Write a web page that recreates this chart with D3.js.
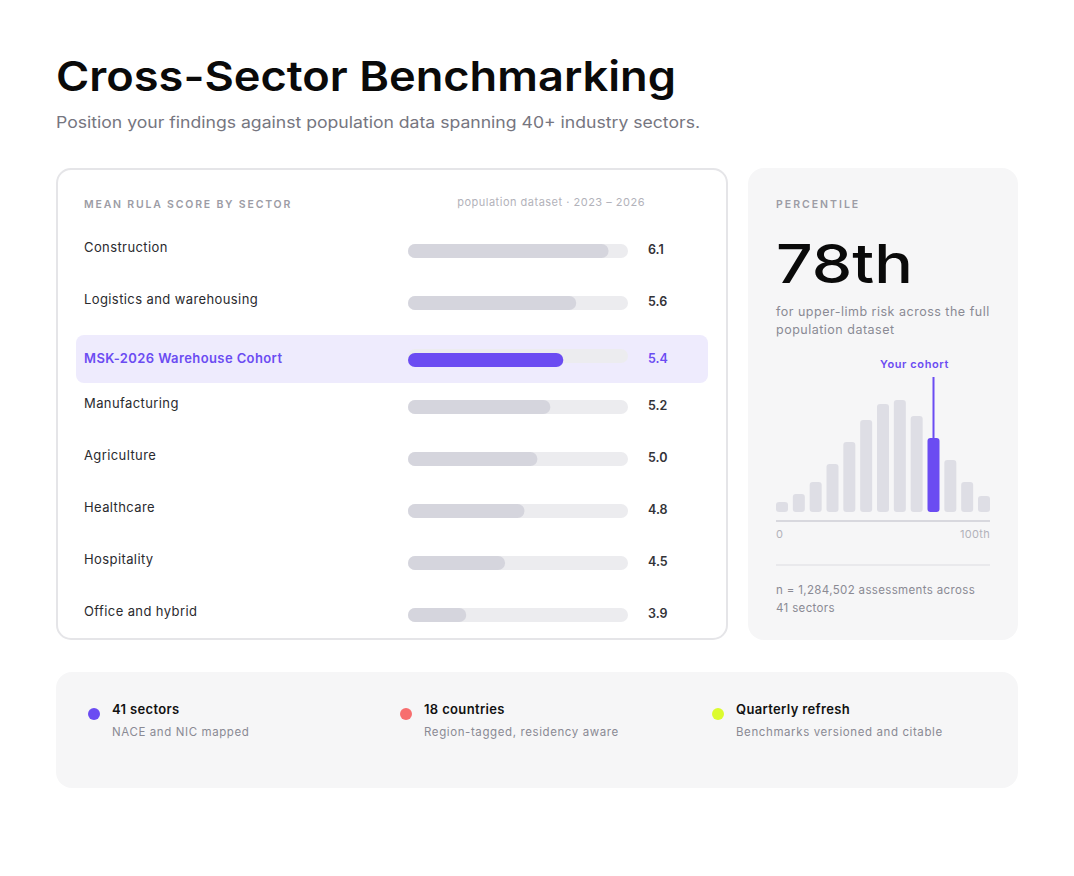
<!DOCTYPE html>
<html>
<head>
<meta charset="utf-8">
<script src="https://cdn.jsdelivr.net/npm/d3@7"></script>
<style>
  body { margin: 0; background: #fff; }
  svg { display: block; font-family: Inter, "Noto Sans", sans-serif; }
</style>
</head>
<body>
<script>
// sector benchmark data
const sectors = ["Construction", "Logistics and warehousing", "MSK-2026 Warehouse Cohort",
  "Manufacturing", "Agriculture", "Healthcare", "Hospitality", "Office and hybrid"]
const scores = [6.1, 5.6, 5.4, 5.2, 5.0, 4.8, 4.5, 3.9]
const cohortName = "MSK-2026 Warehouse Cohort"
const scoreDomain = [3, 6.4]

// percentile distribution (relative density per bin)
const histDensity = [10, 18, 30, 48, 70, 92, 108, 112, 96, 74, 52, 30, 16]
const cohortBin = 9
const percentileLabel = "78th"

const statTitles = ["41 sectors", "18 countries", "Quarterly refresh"]
const statNotes = ["NACE and NIC mapped", "Region-tagged, residency aware", "Benchmarks versioned and citable"]

const purple = "#6b4cf2"
const statColors = [purple, "#f76e6e", "#dcfb2e"]

const width = 1074, height = 876
const svg = d3.select("body").append("svg")
  .attr("width", width)
  .attr("height", height)

// heading
svg.append("text")
  .attr("x", 56).attr("y", 91)
  .attr("font-size", 41).attr("font-weight", 600)
  .attr("fill", "#0a0a0a")
  .attr("textLength", 620).attr("lengthAdjust", "spacingAndGlyphs")
  .text("Cross-Sector Benchmarking")

svg.append("text")
  .attr("x", 56).attr("y", 128)
  .attr("font-size", 16).attr("fill", "#76767f")
  .attr("textLength", 644).attr("lengthAdjust", "spacingAndGlyphs")
  .text("Position your findings against population data spanning 40+ industry sectors.")

// left card
svg.append("rect")
  .attr("x", 57).attr("y", 169).attr("width", 670).attr("height", 470)
  .attr("rx", 14).attr("fill", "#fff")
  .attr("stroke", "#e5e5e8").attr("stroke-width", 2)

svg.append("text")
  .attr("x", 84).attr("y", 208)
  .attr("font-size", 10.5).attr("font-weight", 600).attr("fill", "#9c9ca5")
  .attr("letter-spacing", 1.8)
  .text("MEAN RULA SCORE BY SECTOR")

svg.append("text")
  .attr("x", 645).attr("y", 206).attr("text-anchor", "end")
  .attr("font-size", 11).attr("fill", "#b2b2ba")
  .attr("letter-spacing", 0.5)
  .text("population dataset · 2023 – 2026")

const rowY = d3.scalePoint().domain(sectors).range([251, 615])
const barX = d3.scaleLinear().domain(scoreDomain).range([0, 220])
const trackX = 408, barH = 14

const rows = svg.append("g").selectAll("g")
  .data(sectors.map((s, i) => ({ sector: s, score: scores[i], cohort: s === cohortName })))
  .enter().append("g")
  .attr("transform", d => `translate(0,${rowY(d.sector) + (d.cohort ? 5 : 0)})`)

rows.filter(d => d.cohort).append("rect")
  .attr("x", 76).attr("y", -25).attr("width", 632).attr("height", 48)
  .attr("rx", 8).attr("fill", "#eeebfd")

rows.append("rect")
  .attr("x", trackX).attr("y", d => d.cohort ? -11 : -7)
  .attr("width", barX(scoreDomain[1])).attr("height", barH)
  .attr("rx", 7).attr("fill", "#ececef")

rows.append("rect")
  .attr("x", trackX).attr("y", -7)
  .attr("width", d => barX(d.score)).attr("height", barH)
  .attr("rx", 7).attr("fill", d => d.cohort ? purple : "#d5d5dd")

rows.append("text")
  .attr("x", 84).attr("y", d => d.cohort ? 3 : 1)
  .attr("font-size", 13).attr("font-weight", d => d.cohort ? 600 : 400)
  .attr("letter-spacing", 0.4)
  .attr("fill", d => d.cohort ? purple : "#2a2a2e")
  .text(d => d.sector)

rows.append("text")
  .attr("x", 648).attr("y", 3)
  .attr("font-size", 12.5).attr("font-weight", 600)
  .attr("fill", d => d.cohort ? purple : "#333338")
  .text(d => d3.format(".1f")(d.score))

// right card
svg.append("rect")
  .attr("x", 748).attr("y", 168).attr("width", 270).attr("height", 472)
  .attr("rx", 16).attr("fill", "#f6f6f7")

svg.append("text")
  .attr("x", 776).attr("y", 208)
  .attr("font-size", 10.5).attr("font-weight", 600).attr("fill", "#9c9ca5")
  .attr("letter-spacing", 2)
  .text("PERCENTILE")

svg.append("text")
  .attr("x", 776).attr("y", 283)
  .attr("font-size", 54).attr("font-weight", 500).attr("fill", "#0a0a0a")
  .attr("textLength", 137).attr("lengthAdjust", "spacingAndGlyphs")
  .text(percentileLabel)

const blurb = ["for upper-limb risk across the full", "population dataset"]
svg.append("g").selectAll("text").data(blurb).enter().append("text")
  .attr("x", 776).attr("y", (d, i) => 316 + i * 18)
  .attr("font-size", 12.5).attr("fill", "#8a8a94")
  .attr("letter-spacing", 0.5)
  .text(d => d)

const hx = d3.scaleBand().domain(d3.range(histDensity.length)).range([776, 990])
  .paddingInner(0.287).paddingOuter(0)
const hy = d3.scaleLinear().domain([0, 112]).range([512, 400])

svg.append("g").selectAll("rect").data(histDensity).enter().append("rect")
  .attr("x", (d, i) => hx(i)).attr("y", d => hy(d))
  .attr("width", hx.bandwidth()).attr("height", d => hy(0) - hy(d))
  .attr("rx", 3)
  .attr("fill", (d, i) => i === cohortBin ? purple : "#dedee5")

const cx = hx(cohortBin) + hx.bandwidth() / 2
svg.append("line")
  .attr("x1", cx).attr("x2", cx)
  .attr("y1", 377).attr("y2", hy(histDensity[cohortBin]))
  .attr("stroke", purple).attr("stroke-width", 2)

svg.append("text")
  .attr("x", cx - 19).attr("y", 368).attr("text-anchor", "middle")
  .attr("font-size", 11).attr("font-weight", 600).attr("fill", purple)
  .attr("letter-spacing", 0.6)
  .text("Your cohort")

svg.append("line")
  .attr("x1", 776).attr("x2", 990).attr("y1", 521).attr("y2", 521)
  .attr("stroke", "#d8d8de").attr("stroke-width", 2)

svg.append("text").attr("x", 776).attr("y", 538)
  .attr("font-size", 11).attr("fill", "#b2b2ba").attr("letter-spacing", 0.3).text("0")
svg.append("text").attr("x", 990).attr("y", 538).attr("text-anchor", "end")
  .attr("font-size", 11).attr("fill", "#b2b2ba").attr("letter-spacing", 0.3).text("100th")

svg.append("line")
  .attr("x1", 776).attr("x2", 990).attr("y1", 565).attr("y2", 565)
  .attr("stroke", "#e4e4e8").attr("stroke-width", 1.5)

const footnote = ["n = 1,284,502 assessments across", "41 sectors"]
svg.append("g").selectAll("text").data(footnote).enter().append("text")
  .attr("x", 776).attr("y", (d, i) => 594 + i * 18)
  .attr("font-size", 11.5).attr("fill", "#8a8a94")
  .attr("letter-spacing", 0.35)
  .text(d => d)

// bottom strip
svg.append("rect")
  .attr("x", 56).attr("y", 672).attr("width", 962).attr("height", 116)
  .attr("rx", 16).attr("fill", "#f6f6f7")

const stats = svg.append("g").selectAll("g").data(statTitles).enter().append("g")
  .attr("transform", (d, i) => `translate(${94 + i * 312},714)`)

stats.append("circle").attr("r", 6).attr("fill", (d, i) => statColors[i])
stats.append("text").attr("x", 18).attr("y", 0)
  .attr("font-size", 13).attr("font-weight", 600).attr("fill", "#111")
  .attr("letter-spacing", 0.35)
  .text(d => d)
stats.append("text").attr("x", 18).attr("y", 22)
  .attr("font-size", 11.5).attr("fill", "#8a8a94")
  .attr("letter-spacing", 0.6)
  .text((d, i) => statNotes[i])
</script>
</body>
</html>
